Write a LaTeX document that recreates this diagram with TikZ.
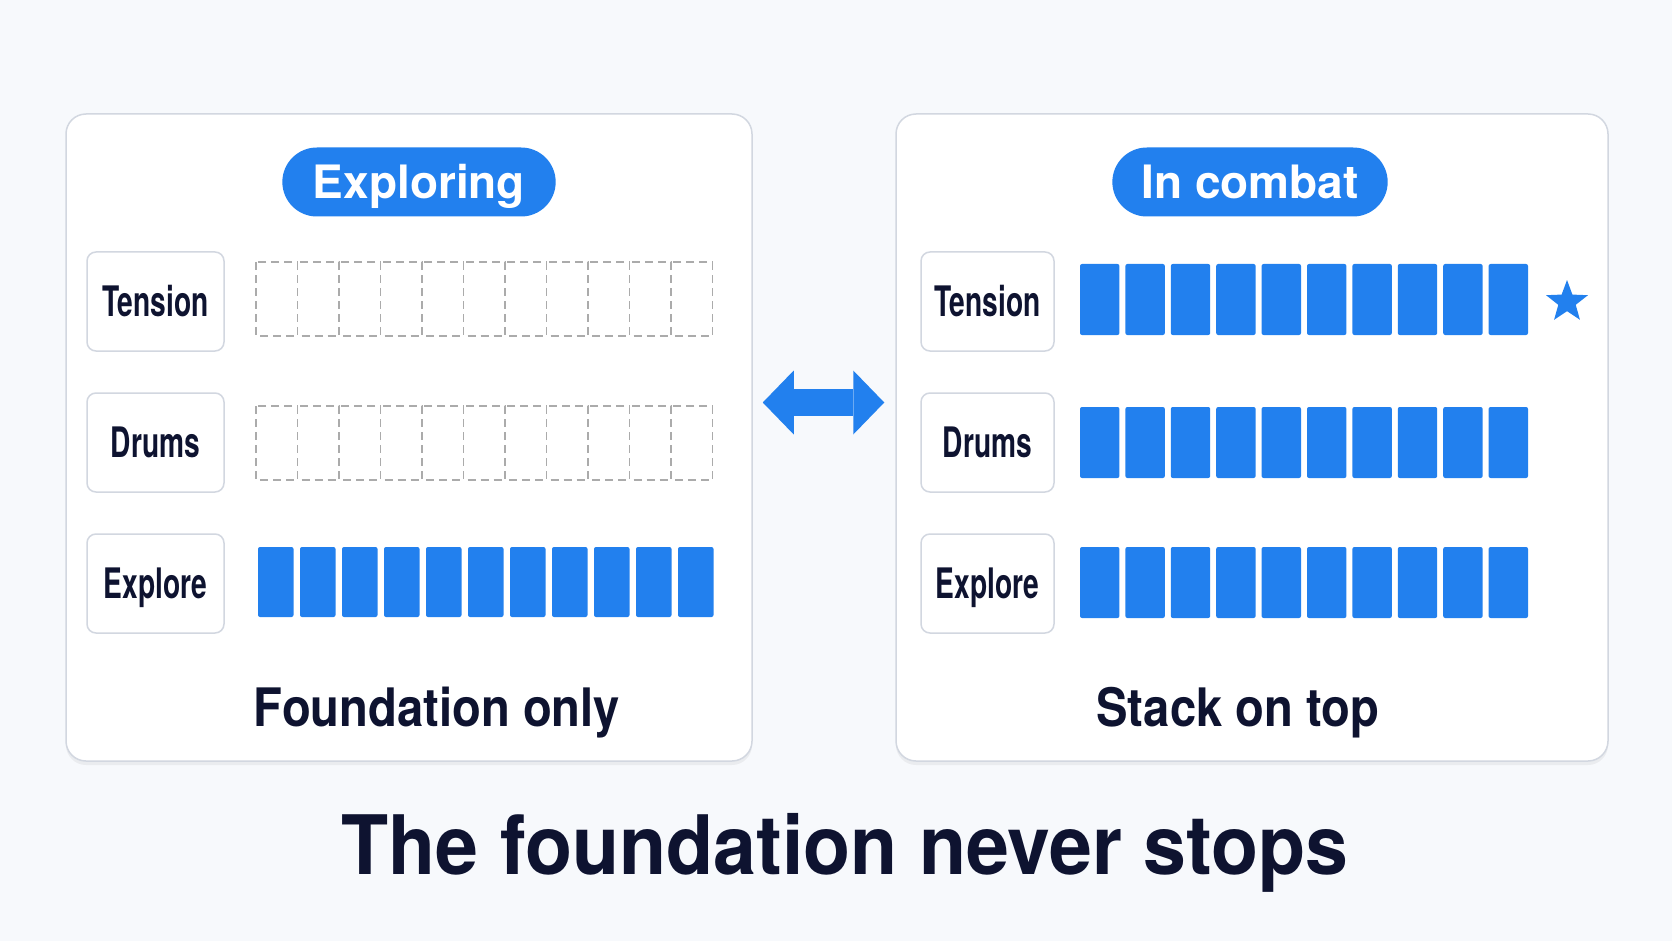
\documentclass[tikz,border=0pt]{standalone}
\usepackage{fontspec}
\setmainfont{TeX Gyre Heros}
\newfontfamily\titlefont[FakeStretch=0.94]{TeX Gyre Heros}
\newfontfamily\capfont[FakeStretch=0.89]{TeX Gyre Heros}
\newfontfamily\tagfont[FakeStretch=0.67]{TeX Gyre Heros}
\usetikzlibrary{positioning,shapes.geometric,shapes.misc,arrows.meta,shadows}

\definecolor{bgcol}{HTML}{F7F9FC}
\definecolor{ink}{HTML}{0E1330}
\definecolor{barblue}{HTML}{2280EE}
\definecolor{edgegray}{HTML}{D2D7E0}
\definecolor{slotgray}{HTML}{ABABAB}

\tikzset{
  panel/.style={draw=edgegray, line width=1.5pt, fill=white, rounded corners=20pt,
    drop shadow={opacity=0.10, shadow xshift=0pt, shadow yshift=-4pt}},
  modepill/.style={rounded rectangle, fill=barblue, text=white, minimum width=280pt,
    minimum height=69pt, text height=38pt, text depth=5pt,
    font=\fontsize{46}{50}\selectfont\bfseries},
  layerbox/.style={draw=edgegray, line width=1.5pt, fill=white, rounded corners=9pt,
    minimum height=99pt, text=ink, text height=35pt, text depth=5pt,
    font=\tagfont\fontsize{42}{46}\selectfont\bfseries},
  slot/.style={draw=slotgray, line width=1.5pt, dash pattern=on 8pt off 5pt},
  block/.style={fill=barblue, rounded corners=2pt},
  swap/.style={barblue, line width=27pt,
    {Triangle[length=31pt,width=64pt,line width=0pt]}-{Triangle[length=31pt,width=64pt,line width=0pt]}},
  caption/.style={text=ink, font=\capfont\fontsize{53}{58}\selectfont\bfseries},
}

\begin{document}
\begin{tikzpicture}[x=1pt,y=-1pt]
% Background
\fill[bgcol] (0,0) rectangle (1672,941);
\useasboundingbox (0,0) rectangle (1672,941);

% Panels
\node[panel, minimum width=686pt, minimum height=647pt] (lpanel) at (409,437.5) {};
\node[panel, minimum width=712pt, minimum height=647pt] (rpanel) at (1252,437.5) {};

% Modes
\node[modepill] (lmode) at (419,182) {Exploring};
\node[modepill, minimum width=282pt] (rmode) at (1250,182) {In combat};

% Layers
\foreach \name/\txt/\y in {tension/Tension/301.5, drums/Drums/442.5, explore/Explore/583.5} {
  \node[layerbox, minimum width=137pt] (l\name) at (155.5,\y) {\txt};
  \node[layerbox, minimum width=133pt] (r\name) at (987.5,\y) {\txt};
}

% Empty slots
\foreach \y in {262,406} \foreach \i in {0,...,10}
  \draw[slot] (256+41.5*\i,\y) rectangle ++(41.5,74);
% Foundation blocks
\foreach \i in {0,...,10} \fill[block] (258+42*\i,547) rectangle ++(35.5,70);
\foreach \y in {264,407,547} \foreach \i in {0,...,9}
  \fill[block] (1080+45.4*\i,\y) rectangle ++(39.4,71);

% Star
\node[star, star points=5, star point ratio=2.4, fill=barblue, minimum size=44pt,
  inner sep=0pt] (peak) at (1567,302) {};

% Switch
\draw[swap] ([shift={(10,-35)}]lpanel.east) -- ([shift={(-11,-35)}]rpanel.west);

% Captions
\node[caption, anchor=base] (lcap) at (437,726) {Foundation only};
\node[caption, anchor=base] (rcap) at (1238,726) {Stack on top};
\node[anchor=base, text=ink, font=\titlefont\fontsize{82}{90}\selectfont\bfseries]
  (tagline) at (845,874) {The foundation never stops};
\end{tikzpicture}
\end{document}
